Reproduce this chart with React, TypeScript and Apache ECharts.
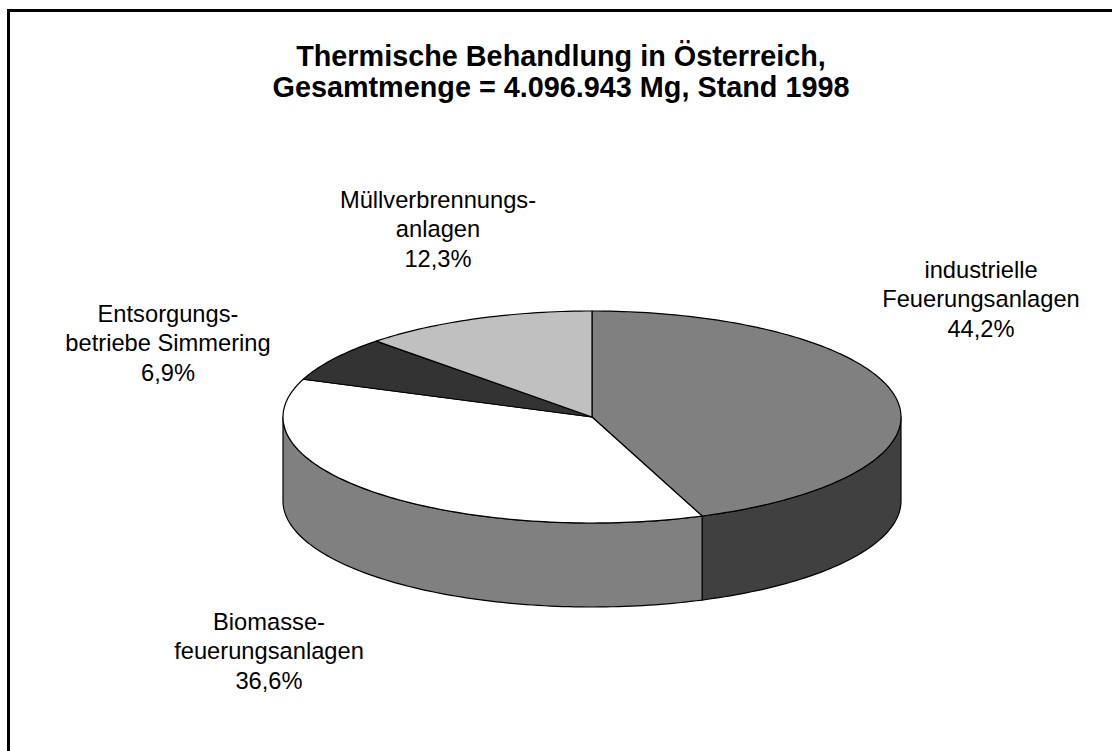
import React, { useEffect, useRef } from "react";
import * as echarts from "echarts";

const categories = ["industrielle\nFeuerungsanlagen", "Biomasse-\nfeuerungsanlagen", "Entsorgungs-\nbetriebe Simmering", "Müllverbrennungs-\nanlagen"];
const values = [44.2, 36.6, 6.9, 12.3];
const valueLabels = ["44,2%", "36,6%", "6,9%", "12,3%"];
const topColors = ["#808080", "#ffffff", "#333333", "#c0c0c0"];
const sideColors = ["#404040", "#808080", "#1a1a1a", "#606060"];
const labelPositions = [[981, 299], [269, 651], [168, 343], [438, 229]];

const CX = 592, CY = 417, RX = 309, RY = 106, DEPTH = 84;
const pt = (a: number, dy = 0): [number, number] => [CX + RX * Math.sin(a), CY - RY * Math.cos(a) + dy];
const sweep = (a0: number, a1: number, dy = 0) => {
  const n = Math.max(2, Math.ceil(Math.abs(a1 - a0) / 0.02));
  const out: [number, number][] = [];
  for (let i = 0; i <= n; i++) out.push(pt(a0 + ((a1 - a0) * i) / n, dy));
  return out;
};
const total = values.reduce((s, v) => s + v, 0);
const angleAt = (i: number) => (values.slice(0, i).reduce((s, v) => s + v, 0) / total) * Math.PI * 2;

function renderSide(params: any, api: any) {
  const i = params.dataIndex;
  const a0 = Math.max(angleAt(i), Math.PI / 2);
  const a1 = Math.min(angleAt(i + 1), (Math.PI * 3) / 2);
  if (a1 <= a0) return { type: "group", children: [] };
  const upper = sweep(a0, a1);
  const lower = sweep(a1, a0, DEPTH);
  return {
    type: "polygon",
    shape: { points: [...upper, ...lower] },
    style: { fill: sideColors[i], stroke: "#000", lineWidth: 1.2, lineJoin: "round" },
  };
}
function renderTop(params: any, api: any) {
  const i = params.dataIndex;
  return {
    type: "polygon",
    shape: { points: [[CX, CY], ...sweep(angleAt(i), angleAt(i + 1))] },
    style: { fill: topColors[i], stroke: "#000", lineWidth: 1.2, lineJoin: "round" },
  };
}

export default function App() {
  const ref = useRef<HTMLDivElement>(null);
  useEffect(() => {
    const chart = echarts.init(ref.current!, null, { renderer: "svg" });
    const font = "'Liberation Sans', Arial, sans-serif";
    chart.setOption({
      animation: false,
      backgroundColor: "#fff",
      title: {
        text: "Thermische Behandlung in Österreich,\nGesamtmenge = 4.096.943 Mg, Stand 1998",
        left: 556, top: 35, textAlign: "center",
        textStyle: { fontFamily: font, fontSize: 28.8, fontWeight: "bold", color: "#000", lineHeight: 31.5 },
      },
      series: [
        { type: "custom", coordinateSystem: "none", renderItem: renderSide, data: values, silent: true, z: 1 },
        { type: "custom", coordinateSystem: "none", renderItem: renderTop, data: values, silent: true, z: 2 },
      ],
      graphic: [
        { type: "rect", shape: { x: 7, y: 9, width: 3, height: 742 }, style: { fill: "#000" } },
        { type: "rect", shape: { x: 7, y: 9, width: 1105, height: 3 }, style: { fill: "#000" } },
        ...categories.map((c, i) => ({
          type: "text", x: labelPositions[i][0], y: labelPositions[i][1],
          style: { text: c + "\n" + valueLabels[i], font: `23.7px ${font}`, fill: "#000", align: "center", verticalAlign: "middle", lineHeight: 29.5 },
        })),
      ],
    });
    return () => chart.dispose();
  }, []);
  return <div ref={ref} style={{ position: "fixed", left: 0, top: 0, width: 1112, height: 751 }} />;
}
